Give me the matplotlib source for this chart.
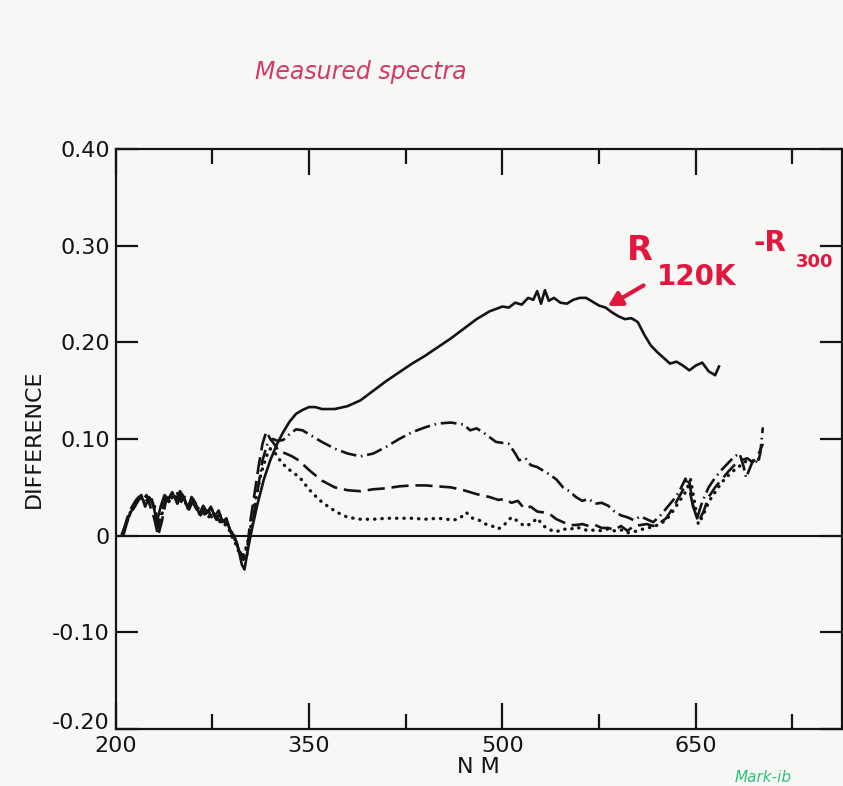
import matplotlib
matplotlib.use("Agg")
import matplotlib.pyplot as plt
import matplotlib.transforms as mtransforms

# ---------------- data ----------------
x_ticks = [200, 350, 500, 650]
x_tick_labels = ["200", "350", "500", "650"]
x_minor = [275, 425, 575, 725]
y_ticks = [-0.20, -0.10, 0.0, 0.10, 0.20, 0.30, 0.40]
y_tick_labels = ["-0.20", "-0.10", "0", "0.10", "0.20", "0.30", "0.40"]

# R120K - R300 (solid)
solid_nm = [205, 208, 211, 214, 217, 220, 223, 226, 229, 232, 235, 238, 241, 244, 247, 250,
            253, 256, 259, 262, 265, 268, 271, 274, 277, 280, 283, 286, 289, 292, 295, 298,
            300, 303, 306,
            310, 315, 320, 325, 330, 335, 340, 345, 350, 355, 360,
            370, 380, 390, 400, 410, 420, 430, 440, 450, 460, 470, 480, 490, 500,
            505, 510, 515, 520, 524, 527, 530, 533, 536,
            540, 545, 550, 555, 560, 565, 570, 575, 580, 585, 590, 595, 600, 605, 610, 615,
            620, 625, 630, 635, 640, 645, 650, 655, 660, 665, 668]
solid_diff = [0.002, 0.012, 0.022, 0.030, 0.038, 0.042, 0.030, 0.040, 0.034, 0.014, 0.030, 0.042,
              0.038, 0.045, 0.036, 0.046, 0.040, 0.028, 0.040, 0.034, 0.022, 0.031, 0.024, 0.030,
              0.020, 0.026, 0.014, 0.018, 0.004, 0.000, -0.012, -0.030,
              -0.035, -0.012, 0.008,
              0.032, 0.058, 0.078, 0.094, 0.107, 0.118, 0.126, 0.130, 0.133, 0.133, 0.131,
              0.131, 0.134, 0.140, 0.150, 0.160, 0.169, 0.178, 0.186, 0.195, 0.204, 0.214,
              0.224, 0.232, 0.237,
              0.236, 0.241, 0.239, 0.246, 0.244, 0.253, 0.240, 0.254, 0.243,
              0.246, 0.241, 0.240, 0.244, 0.246, 0.246, 0.242, 0.238, 0.236, 0.231, 0.227,
              0.224, 0.225, 0.221, 0.208, 0.197, 0.190, 0.184, 0.178, 0.180, 0.176, 0.171,
              0.176, 0.179, 0.170, 0.166, 0.175]

early_nm = [206, 209, 212, 215, 218, 221, 224, 227, 230, 233, 236, 239, 242, 245, 248, 251, 254,
            257, 260, 263, 266, 269, 272, 275, 278, 281, 284, 287, 290, 293, 296, 299, 302]

# dash-dot curve
dashdot_early = [0.000, 0.014, 0.024, 0.030, 0.037, 0.040, 0.033, 0.038, 0.028, 0.008, 0.026,
                 0.038, 0.036, 0.041, 0.033, 0.043, 0.036, 0.027, 0.036, 0.031, 0.021, 0.028,
                 0.020, 0.025, 0.017, 0.022, 0.010, 0.013, 0.002, -0.006, -0.016, -0.022, -0.012]
dashdot_late_nm = [306, 310, 314, 318, 322, 326, 330, 335, 340, 345, 350, 360, 370, 380, 390, 400,
                   410, 420, 430, 440, 450, 460, 470, 475, 480, 485, 490, 495, 500, 505, 510, 513,
                   518, 522, 527, 532, 537, 542, 547, 552, 557, 562, 567, 572, 577, 582, 587, 592,
                   597, 602, 607, 612, 617, 622, 627, 632, 637, 642, 645, 648, 651, 655, 660, 665,
                   670, 675, 680, 684, 687, 689, 692, 695, 698, 700, 702]
dashdot_late = [0.010, 0.045, 0.078, 0.096, 0.100, 0.098, 0.099, 0.105, 0.110, 0.109, 0.105,
                0.097, 0.090, 0.085, 0.082, 0.085, 0.092, 0.100, 0.107, 0.112, 0.116, 0.117,
                0.115, 0.109, 0.111, 0.107, 0.102, 0.097, 0.096, 0.095, 0.085, 0.078, 0.080,
                0.073, 0.071, 0.067, 0.063, 0.058, 0.050, 0.046, 0.040, 0.036, 0.038, 0.033,
                0.034, 0.031, 0.025, 0.021, 0.019, 0.016, 0.020, 0.017, 0.014, 0.020, 0.028,
                0.036, 0.045, 0.059, 0.048, 0.030, 0.018, 0.035, 0.050, 0.060, 0.068, 0.075,
                0.082, 0.085, 0.072, 0.060, 0.070, 0.080, 0.075, 0.085, 0.112]

# dashed curve
dashed_early = [0.004, 0.018, 0.028, 0.035, 0.040, 0.036, 0.042, 0.030, 0.018, 0.000, 0.015,
                0.035, 0.040, 0.038, 0.044, 0.035, 0.040, 0.032, 0.034, 0.027, 0.030, 0.022,
                0.026, 0.018, 0.022, 0.014, 0.016, 0.008, 0.004, -0.004, -0.014, -0.025, -0.020]
dashed_late_nm = [304, 308, 311, 314, 317, 320, 323, 327, 332, 337, 342, 350, 360, 370, 380, 390,
                  400, 410, 420, 430, 440, 450, 460, 470, 480, 490, 497, 502, 507, 512, 517, 522,
                  527, 532, 537, 542, 547, 552, 557, 562, 567, 572, 577, 582, 587, 592, 597, 602,
                  607, 612, 617, 622, 627, 632, 637, 642, 645, 648, 652, 656, 660, 665, 670, 675,
                  680, 685, 690, 694, 698, 702]
dashed_late = [0.010, 0.045, 0.072, 0.095, 0.108, 0.100, 0.095, 0.087, 0.085, 0.082, 0.078,
               0.068, 0.057, 0.050, 0.047, 0.046, 0.048, 0.049, 0.051, 0.052, 0.052, 0.051,
               0.050, 0.047, 0.043, 0.040, 0.037, 0.038, 0.034, 0.036, 0.028, 0.030, 0.025,
               0.024, 0.022, 0.017, 0.014, 0.011, 0.011, 0.012, 0.010, 0.011, 0.008, 0.008,
               0.006, 0.010, 0.005, 0.010, 0.011, 0.012, 0.010, 0.013, 0.018, 0.028, 0.040,
               0.052, 0.056, 0.030, 0.014, 0.025, 0.040, 0.050, 0.058, 0.066, 0.073, 0.078,
               0.080, 0.076, 0.082, 0.095]

# dotted curve
dotted_early = [0.002, 0.015, 0.026, 0.033, 0.041, 0.038, 0.036, 0.040, 0.032, 0.012, 0.022,
                0.040, 0.034, 0.043, 0.038, 0.040, 0.034, 0.030, 0.038, 0.028, 0.024, 0.026,
                0.018, 0.028, 0.016, 0.020, 0.012, 0.010, 0.000, -0.008, -0.018, -0.020, -0.010]
dotted_late_nm = [305, 309, 313, 317, 320, 324, 328, 333, 338, 343, 350, 358, 365, 372, 380, 390,
                  400, 410, 420, 430, 440, 450, 457, 462, 467, 472, 477, 482, 487, 492, 497, 502,
                  507, 512, 517, 522, 527, 532, 537, 542, 547, 552, 557, 562, 567, 572, 577, 582,
                  587, 592, 597, 602, 607, 612, 617, 622, 627, 632, 637, 642, 646, 649, 652, 656,
                  660, 665, 670, 675, 680, 685, 690, 695, 700]
dotted_late = [0.010, 0.040, 0.065, 0.082, 0.090, 0.085, 0.077, 0.070, 0.065, 0.060, 0.048,
               0.037, 0.030, 0.024, 0.019, 0.017, 0.017, 0.018, 0.018, 0.018, 0.017, 0.018,
               0.017, 0.016, 0.018, 0.024, 0.018, 0.016, 0.012, 0.010, 0.007, 0.012, 0.019,
               0.015, 0.010, 0.012, 0.018, 0.010, 0.006, 0.004, 0.007, 0.006, 0.009, 0.007,
               0.005, 0.006, 0.005, 0.007, 0.005, 0.006, 0.003, 0.004, 0.006, 0.008, 0.009,
               0.012, 0.016, 0.025, 0.035, 0.045, 0.058, 0.035, 0.012, 0.022, 0.035, 0.045,
               0.055, 0.062, 0.068, 0.073, 0.078, 0.076, 0.080]

# ---------------- figure ----------------
W, H = 843, 786
paper = "#f7f7f5"
fig = plt.figure(figsize=(W / 100, H / 100), dpi=100, facecolor=paper)


def fx(x):
    return x / W


def fy(y):
    return 1 - y / H


ax_left, ax_right, ax_top, ax_bottom = 115.5, 841.5, 149, 729
ax = fig.add_axes([fx(ax_left), fy(ax_bottom), (ax_right - ax_left) / W, (ax_bottom - ax_top) / H])
ax.set_facecolor(paper)
ax.set_xlim(200, 763)
ax.set_ylim(-0.20, 0.40)

ink = "#141414"
for s in ax.spines.values():
    s.set_linewidth(1.6)
    s.set_color(ink)

ax.axhline(0, color=ink, lw=1.5, zorder=1)

ax.plot(solid_nm, solid_diff, color=ink, lw=1.9, solid_joinstyle="round", zorder=3)
ax.plot(early_nm + dashdot_late_nm, dashdot_early + dashdot_late, color=ink, lw=1.9,
        linestyle=(0, (6.0, 1.8, 0.6, 1.8)), zorder=3)
ax.plot(early_nm + dashed_late_nm, dashed_early + dashed_late, color=ink, lw=1.9,
        linestyle=(0, (6.5, 2.6)), zorder=3)
ax.plot(early_nm + dotted_late_nm, dotted_early + dotted_late, color=ink, lw=2.4,
        linestyle=(0, (0.1, 2.1)), dash_capstyle="round", zorder=3)

# ticks
ax.set_xticks(x_ticks)
ax.set_xticklabels(x_tick_labels)
ax.set_xticks(x_minor, minor=True)
ax.set_yticks(y_ticks)
ax.set_yticklabels(y_tick_labels)
ax.tick_params(axis="x", which="major", direction="in", length=19, width=1.6, top=True,
               bottom=True, labelsize=16, pad=5, colors=ink)
ax.tick_params(axis="x", which="minor", direction="in", length=11, width=1.6, top=True,
               bottom=True, colors=ink)
ax.tick_params(axis="y", which="major", direction="in", length=16, width=1.6, left=True,
               right=True, labelsize=16, pad=4, colors=ink)

# lift the bottom y label a little so it does not collide with "200"
for lab in ax.get_yticklabels():
    if lab.get_text() == "-0.20":
        lab.set_transform(lab.get_transform() +
                          mtransforms.ScaledTranslation(0, 6 / 72, fig.dpi_scale_trans))

ax.set_ylabel("DIFFERENCE", fontsize=16, color=ink, labelpad=6)
ax.set_xlabel("N M", fontsize=16, color=ink, labelpad=1)

# handwritten annotations
red = "#e3173e"
fig.text(fx(361), fy(72), "Measured spectra", color="#d43a63", fontsize=17, style="italic",
         ha="center", va="center", family="DejaVu Sans")
fig.text(fx(640), fy(250), "R", color=red, fontsize=24, fontweight="bold", ha="center",
         va="center")
fig.text(fx(697), fy(277), "120K", color=red, fontsize=20, fontweight="bold", ha="center",
         va="center")
fig.text(fx(770), fy(243), "-R", color=red, fontsize=20, fontweight="bold", ha="center",
         va="center")
fig.text(fx(815), fy(262), "300", color=red, fontsize=13, fontweight="bold", ha="center",
         va="center")
ax.annotate("", xy=(580, 0.236), xycoords="data",
            xytext=(fx(646), fy(284)), textcoords="figure fraction",
            arrowprops=dict(arrowstyle="-|>,head_length=0.8,head_width=0.45", color=red, lw=3))
fig.text(fx(735), fy(785), "Mark-ib", color="#2ec27e", fontsize=11, ha="left", va="bottom",
         style="italic")

fig.savefig("out.png", dpi=100, facecolor=paper)
